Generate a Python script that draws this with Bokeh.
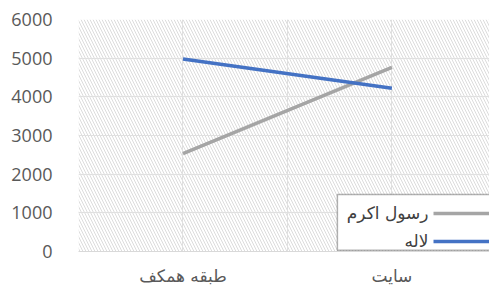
from bokeh.plotting import figure
from bokeh.models import BoxAnnotation, Label, FixedTicker, Range1d
from bokeh.embed import file_html
from bokeh.resources import INLINE

categories = ["طبقه همکف", "سایت"]
series_names = ["رسول اکرم", "لاله"]
series_colors = ["#a5a5a5", "#4472c4"]
rasul_akram = [2530, 4760]
laleh = [4980, 4220]
y_ticks = [0, 1000, 2000, 3000, 4000, 5000, 6000]

xs = list(range(1, len(categories) + 1))

p = figure(width=489, height=289, output_backend="svg", toolbar_location=None,
           x_range=Range1d(0.5, 2.467), y_range=Range1d(0, 6000),
           min_border_left=78, min_border_right=0, min_border_top=19, min_border_bottom=38)
p.outline_line_color = None
p.background_fill_color = "white"

# hatched plot area
p.add_layout(BoxAnnotation(fill_alpha=0, hatch_pattern="left_diagonal_line",
                           hatch_color="#dcdcdc", hatch_scale=6, hatch_weight=1,
                           line_color=None, level="image"))

p.xgrid.ticker = FixedTicker(ticks=[0.5, 1, 1.5, 2, 2.5])
p.xgrid.grid_line_color = "#e0e0e0"
p.ygrid.ticker = FixedTicker(ticks=y_ticks)
p.ygrid.grid_line_color = "#e0e0e0"

p.yaxis.ticker = FixedTicker(ticks=y_ticks)
p.yaxis.axis_line_color = None
p.yaxis.major_tick_line_color = None
p.yaxis.minor_tick_line_color = None
p.yaxis.major_label_text_font = "Open Sans"
p.yaxis.major_label_text_font_size = "18px"
p.yaxis.major_label_text_color = "#595959"
p.yaxis.major_label_standoff = 20

p.xaxis.ticker = FixedTicker(ticks=xs)
p.xaxis.major_label_overrides = {x: c for x, c in zip(xs, categories)}
p.xaxis.axis_line_color = "#d9d9d9"
p.xaxis.major_tick_line_color = None
p.xaxis.minor_tick_line_color = None
p.xaxis.major_label_text_font = "DejaVu Sans"
p.xaxis.major_label_text_font_size = "17px"
p.xaxis.major_label_text_color = "#595959"
p.xaxis.major_label_standoff = 8

p.line(xs, rasul_akram, line_color=series_colors[0], line_width=3.5)
p.line(xs, laleh, line_color=series_colors[1], line_width=3.5)

# custom right-to-left legend
p.add_layout(BoxAnnotation(left=1.739, right=3.0, top=1474, bottom=30,
                           fill_color="white", fill_alpha=1,
                           line_color="black", line_width=1.5, level="annotation"))
legend_y = [983, 259]
for name, color, ly in zip(series_names, series_colors, legend_y):
    r = p.line([2.199, 2.6], [ly, ly], line_color=color, line_width=3.5)
    r.level = "overlay"
    p.add_layout(Label(x=2.175, y=ly, text=name, text_align="right",
                       text_baseline="middle", text_font="DejaVu Sans",
                       text_font_size="17px", text_color="#404040", level="overlay"))

open("out.html", "w").write(file_html(p, INLINE))
